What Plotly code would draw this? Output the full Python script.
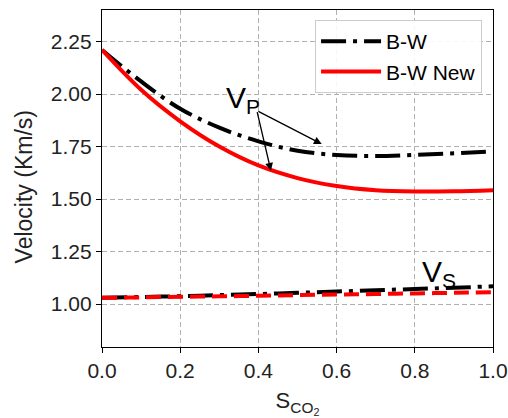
import plotly.graph_objects as go

# Data
s_co2 = [0.0, 0.1, 0.2, 0.3, 0.4, 0.5, 0.6, 0.7, 0.8, 0.9, 1.0]
vp_bw = [2.21, 2.06, 1.93, 1.84, 1.775, 1.73, 1.71, 1.705, 1.71, 1.718, 1.727]
vp_bw_new = [2.21, 2.02, 1.87, 1.75, 1.66, 1.60, 1.562, 1.542, 1.536, 1.537, 1.542]
vs_bw = [1.03, 1.034, 1.038, 1.043, 1.048, 1.054, 1.06, 1.066, 1.072, 1.078, 1.085]
vs_bw_new = [1.03, 1.032, 1.035, 1.037, 1.04, 1.043, 1.046, 1.048, 1.051, 1.054, 1.057]

x_ticks = [0.0, 0.2, 0.4, 0.6, 0.8, 1.0]
x_tick_labels = ["0.0", "0.2", "0.4", "0.6", "0.8", "1.0"]
y_ticks = [1.00, 1.25, 1.50, 1.75, 2.00, 2.25]
y_tick_labels = ["1.00", "1.25", "1.50", "1.75", "2.00", "2.25"]

DASHDOT = "25px,7px,4px,7px"
DASHED = "15px,7px"
LW = 4

fig = go.Figure()
fig.add_trace(go.Scatter(x=s_co2, y=vp_bw, mode="lines", name="B-W",
                         line=dict(color="black", width=LW, dash=DASHDOT, shape="spline")))
fig.add_trace(go.Scatter(x=s_co2, y=vp_bw_new, mode="lines", name="B-W New",
                         line=dict(color="#ff0000", width=LW, shape="spline")))
fig.add_trace(go.Scatter(x=s_co2, y=vs_bw, mode="lines", name="B-W Vs", showlegend=False,
                         line=dict(color="black", width=LW, dash=DASHDOT, shape="spline")))
fig.add_trace(go.Scatter(x=s_co2, y=vs_bw_new, mode="lines", name="B-W New Vs", showlegend=False,
                         line=dict(color="#ff0000", width=LW, dash=DASHED, shape="spline")))

# V_P annotation with two arrows
tail = (0.396, 1.921)
for hx, hy in [(0.562, 1.762), (0.432, 1.635)]:
    fig.add_annotation(x=hx, y=hy, ax=tail[0], ay=tail[1], xref="x", yref="y",
                       axref="x", ayref="y", text="", showarrow=True,
                       arrowhead=2, arrowsize=1.2, arrowwidth=1.3, arrowcolor="black")
fig.add_annotation(x=0.36, y=1.975, xref="x", yref="y", text="V<sub>P</sub>",
                   showarrow=False, font=dict(size=30, color="black"))
fig.add_annotation(x=0.862, y=1.145, xref="x", yref="y", text="V<sub>S</sub>",
                   showarrow=False, font=dict(size=30, color="black"))

# y-axis title as annotation for exact placement
fig.add_annotation(x=-0.2008, y=0.475, xref="paper", yref="paper", text="Velocity (Km/s)",
                   xanchor="center", yanchor="middle",
                   textangle=-90, showarrow=False, font=dict(size=23, color="#222222"))

fig.update_layout(
    width=508, height=418,
    margin=dict(l=102, r=15, t=10, b=71),
    paper_bgcolor="white", plot_bgcolor="white",
    font=dict(family="Liberation Sans, Arial, sans-serif", size=21, color="#222222"),
    legend=dict(x=0.972, y=0.97, xanchor="right", yanchor="top",
                bgcolor="rgba(255,255,255,0.9)", bordercolor="#cccccc", borderwidth=1,
                font=dict(size=21, color="black"), tracegroupgap=0, itemwidth=60),
    showlegend=True,
)
fig.update_xaxes(range=[0, 1.0], tickvals=x_ticks, ticktext=x_tick_labels,
                 automargin=False,
                 showline=True, linecolor="black", linewidth=1.2, mirror=True,
                 ticks="outside", ticklen=5, tickcolor="black",
                 showgrid=True, gridcolor="#b0b0b0", griddash="5px,3px", gridwidth=1,
                 zeroline=False,
                 title=dict(text="S<sub>CO<sub>2</sub></sub>", font=dict(size=22), standoff=12))
fig.update_yaxes(range=[0.796, 2.40], tickvals=y_ticks, ticktext=y_tick_labels,
                 automargin=False,
                 showline=True, linecolor="black", linewidth=1.2, mirror=True,
                 ticks="outside", ticklen=5, tickcolor="black",
                 showgrid=True, gridcolor="#b0b0b0", griddash="5px,3px", gridwidth=1,
                 zeroline=False)

fig.write_html("out.html", config={"displayModeBar": False},
               post_script="document.body.style.margin='0';document.body.style.overflow='hidden';")
